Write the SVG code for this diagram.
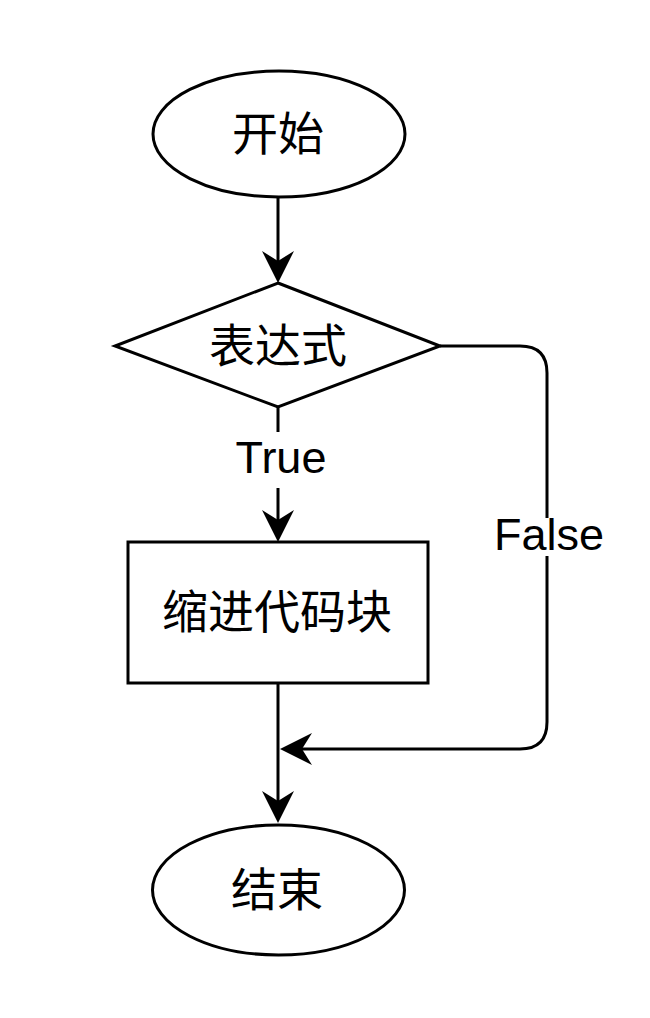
<svg xmlns="http://www.w3.org/2000/svg" width="650" height="1018" viewBox="0 0 650 1018">
<style>
.shape{fill:#fff;stroke:#000;stroke-width:3}
.conn{fill:none;stroke:#000;stroke-width:3}
.cjk{font-family:"Noto Sans CJK SC","Liberation Sans",sans-serif;font-size:46px;text-anchor:middle;dominant-baseline:central;fill:#000}
.lbl{font-family:"Liberation Sans",Arial,sans-serif;font-size:45px;text-anchor:middle;fill:#000}
</style>
<defs>
<marker id="arr" markerUnits="userSpaceOnUse" viewBox="-34 -18 36 36" markerWidth="36" markerHeight="36" refX="-22" refY="0" orient="auto">
<path d="M0,0 L-32,-16 L-22,0 L-32,16 Z" fill="#000"/>
</marker>
</defs>
<rect width="650" height="1018" fill="#fff"/>
<g id="start">
<ellipse class="shape" cx="279" cy="134" rx="126" ry="63"/>
<text class="cjk" x="278" y="130">开始</text>
</g>
<g id="cond">
<polygon class="shape" points="278,283 440,346 278,407 115,346"/>
<text class="cjk" x="278" y="342">表达式</text>
</g>
<g id="block">
<rect class="shape" x="128" y="542" width="300" height="141"/>
<text class="cjk" x="277" y="608">缩进代码块</text>
</g>
<g id="end">
<ellipse class="shape" cx="278.5" cy="890" rx="126" ry="65"/>
<text class="cjk" x="277" y="886">结束</text>
</g>
<g id="connectors">
<path class="conn" d="M278,198 V261" marker-end="url(#arr)"/>
<path class="conn" d="M278,407 V432 M278,488 V520" marker-end="url(#arr)"/>
<text class="lbl" x="281" y="473">True</text>
<path class="conn" d="M278,683 V801" marker-end="url(#arr)"/>
<path class="conn" d="M440,346 H520 Q547,346 547,373 V518 M547,556 V722 Q547,749 520,749 H302" marker-end="url(#arr)"/>
<text class="lbl" x="549" y="550">False</text>
</g>
</svg>
